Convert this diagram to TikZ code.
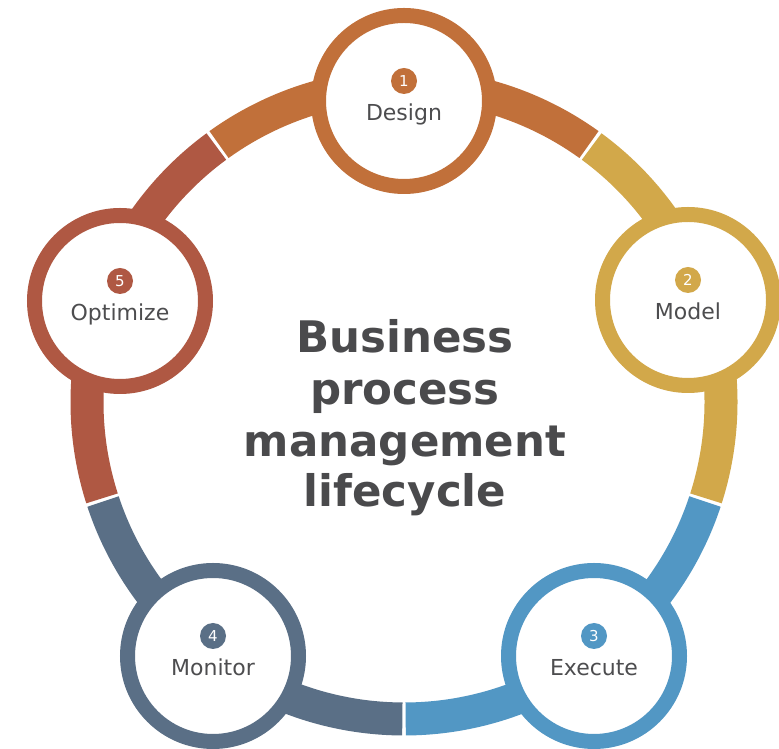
\documentclass[tikz,border=0pt]{standalone}
\usepackage{fontspec}
\setmainfont{DejaVu Sans}
\definecolor{cDesign}{HTML}{C1703A}
\definecolor{cModel}{HTML}{D2A84A}
\definecolor{cExecute}{HTML}{5297C4}
\definecolor{cMonitor}{HTML}{5A6F86}
\definecolor{cOptimize}{HTML}{AF5843}
\definecolor{labelgray}{HTML}{4D4D4F}
\definecolor{titlegray}{HTML}{4A4A4C}
\begin{document}
\begin{tikzpicture}[x=1pt,y=1pt,
  stage/.style={circle, draw=#1, line width=15pt, fill=white, minimum size=171pt, inner sep=0pt},
  badge/.style={circle, fill=#1, text=white, minimum size=26pt, inner sep=0pt, font=\fontsize{15}{15}\selectfont},
  lbl/.style={anchor=base, text=labelgray, font=\fontsize{22}{22}\selectfont},
  band/.style={line width=33pt, draw=#1},
  ttl/.style={anchor=base, text=titlegray, font=\fontsize{43.5}{43.5}\selectfont\bfseries}]
\useasboundingbox (0,0) rectangle (779,749);
\clip (0,0) rectangle (779,749);
\fill[white] (0,0) rectangle (779,749);
% ring segments
\draw[band=cDesign]   ([shift={(404,347)}]54.3:317)  arc[start angle=54.3,  end angle=125.7, radius=317];
\draw[band=cOptimize] ([shift={(404,347)}]126.3:317) arc[start angle=126.3, end angle=197.7, radius=317];
\draw[band=cMonitor]  ([shift={(404,347)}]198.3:317) arc[start angle=198.3, end angle=269.7, radius=317];
\draw[band=cExecute]  ([shift={(404,347)}]270.3:317) arc[start angle=270.3, end angle=341.7, radius=317];
\draw[band=cModel]    ([shift={(404,347)}]342.3:317) arc[start angle=342.3, end angle=413.7, radius=317];
% stages
\node[stage=cDesign]   (d1) at (404,648) {};
\node[stage=cModel]    (d2) at (688,449) {};
\node[stage=cExecute]  (d3) at (594,93) {};
\node[stage=cMonitor]  (d4) at (213,93) {};
\node[stage=cOptimize] (d5) at (120,448) {};
% badges
\node[badge=cDesign]   (b1) at ([yshift=20pt]d1) {1};
\node[badge=cModel]    (b2) at ([yshift=20pt]d2) {2};
\node[badge=cExecute]  (b3) at ([yshift=20pt]d3) {3};
\node[badge=cMonitor]  (b4) at ([yshift=20pt]d4) {4};
\node[badge=cOptimize] (b5) at ([yshift=20pt]d5) {5};
% labels
\node[lbl] (l1) at ([yshift=-20pt]d1) {Design};
\node[lbl] (l2) at ([yshift=-20pt]d2) {Model};
\node[lbl] (l3) at ([yshift=-20pt]d3) {Execute};
\node[lbl] (l4) at ([yshift=-20pt]d4) {Monitor};
\node[lbl] (l5) at ([yshift=-20pt]d5) {Optimize};
% title
\node[ttl] (t1) at (405,396) {Business};
\node[ttl] (t2) at (405,344) {process};
\node[ttl] (t3) at (405,292) {management};
\node[ttl] (t4) at (405,242) {lifecycle};
\end{tikzpicture}
\end{document}
